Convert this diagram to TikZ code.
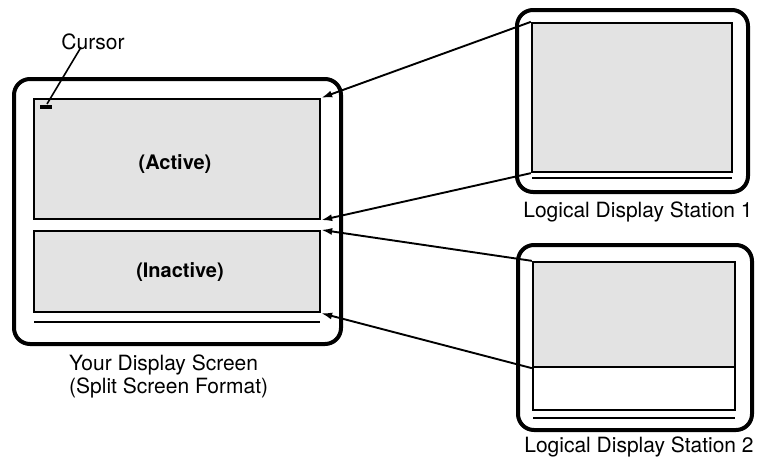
\documentclass[tikz,border=0pt]{standalone}
\usepackage{fontspec}
\setmainfont{TeX Gyre Heros}
\usetikzlibrary{arrows.meta,calc}
\tikzset{
  bezel/.style={draw, line width=4pt, rounded corners=16pt, inner sep=0pt},
  screen/.style={draw, line width=2.3pt, fill=black!11, inner sep=0pt},
  blankscreen/.style={draw, line width=2.3pt, fill=white, inner sep=0pt},
  baseline/.style={line width=2.6pt},
  label/.style={font=\fontsize{21}{23}\selectfont, inner sep=0pt},
  boldlabel/.style={font=\fontsize{20}{22}\selectfont\bfseries, inner sep=0pt},
  link/.style={line width=1.9pt, -{Latex[length=11pt,width=7pt]}}
}
\begin{document}
\begin{tikzpicture}[x=1pt,y=-1pt]
\useasboundingbox (0,0) rectangle (760,461);
% left monitor
\node[bezel, minimum width=327pt, minimum height=265pt] (L) at (177.5,211.5) {};
\node[screen, minimum width=286pt, minimum height=120pt] (act) at (177,159) {};
\node[screen, minimum width=286pt, minimum height=81pt] (inact) at (177,271.5) {};
\draw[baseline] (34,322) -- (320,322);
\node[boldlabel] (actl) at (175,164) {(Active)};
\node[boldlabel] (inactl) at (180,272) {(Inactive)};
\fill (40,105) rectangle (52,109);
\coordinate (cm) at (47,104);
\node[label] (cur) at (93,42) {Cursor};
\draw[line width=1.6pt] ($(cur.south)+(-12,-3)$) -- (cm);
\node[label, anchor=west, align=left] (yd) at (69,376) {Your Display Screen\\(Split Screen Format)};
% monitor 1
\node[bezel, minimum width=231pt, minimum height=182pt] (M1) at (632.5,101) {};
\node[screen, minimum width=200pt, minimum height=149pt] (s1) at (632,97.5) {};
\draw[baseline] (532,178) -- (732,178);
\node[label] (l1) at (638,212) {Logical Display Station 1};
% monitor 2
\node[bezel, minimum width=234pt, minimum height=185pt] (M2) at (635,337.5) {};
\node[screen, minimum width=202pt, minimum height=105pt] (s2) at (634,314.5) {};
\node[blankscreen, minimum width=202pt, minimum height=43pt] (s2b) at (634,388.5) {};
\draw[baseline] (533,418) -- (735,418);
\node[label] (l2) at (639,447) {Logical Display Station 2};
% connectors
\draw[link] (s1.north west) -- (act.north east);
\draw[link] (s1.south west) -- (act.south east);
\draw[link] (s2.north west) -- (inact.north east);
\draw[link] (s2.south west) -- (inact.south east);
\end{tikzpicture}
\end{document}
